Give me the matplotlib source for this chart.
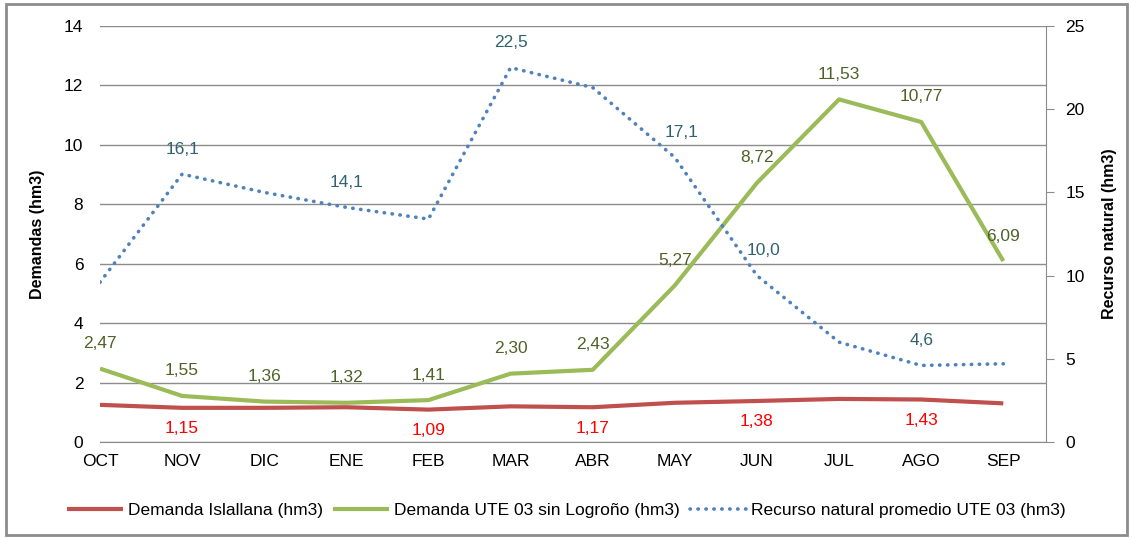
import numpy as np
import matplotlib.pyplot as plt
from matplotlib.patches import Rectangle

plt.rcParams['font.family'] = ['Liberation Sans', 'DejaVu Sans']
plt.rcParams['font.size'] = 12

months = ["OCT", "NOV", "DIC", "ENE", "FEB", "MAR", "ABR", "MAY", "JUN", "JUL", "AGO", "SEP"]
islallana = [1.25, 1.15, 1.15, 1.17, 1.09, 1.20, 1.17, 1.32, 1.38, 1.45, 1.43, 1.30]
ute03 = [2.47, 1.55, 1.36, 1.32, 1.41, 2.30, 2.43, 5.27, 8.72, 11.53, 10.77, 6.09]
recurso = [9.6, 16.1, 15.0, 14.1, 13.4, 22.5, 21.3, 17.1, 10.0, 6.0, 4.6, 4.7]

isl_label_idx = [1, 4, 6, 8, 10]
rec_label_idx = [1, 3, 5, 7, 8, 10]

red = "#C0504D"
green = "#9BBB59"
blue = "#4F81BD"

x = np.arange(len(months))

fig = plt.figure(figsize=(11.33, 5.38), dpi=100)
ax = fig.add_axes([100/1133, 1 - 442/538, (1046 - 100)/1133, (442 - 26)/538])
ax2 = ax.twinx()

l1, = ax.plot(x, islallana, color=red, lw=3, solid_capstyle='butt', zorder=3)
l2, = ax.plot(x, ute03, color=green, lw=3, solid_capstyle='butt', zorder=3)
l3, = ax2.plot(x, recurso, color=blue, lw=2.6, linestyle=(0, (0.1, 2.1)),
               dash_capstyle='round', zorder=3)

lab_fs = 12.5
for i in range(len(months)):
    ax.annotate(f"{ute03[i]:.2f}".replace(".", ","), (x[i], ute03[i]),
                xytext=(0, 18), textcoords='offset points', ha='center', va='center',
                color="#4F6228", fontsize=lab_fs)
for i in isl_label_idx:
    ax.annotate(f"{islallana[i]:.2f}".replace(".", ","), (x[i], islallana[i]),
                xytext=(0, -15), textcoords='offset points', ha='center', va='center',
                color="#FF0000", fontsize=lab_fs)
for i in rec_label_idx:
    ax2.annotate(f"{recurso[i]:.1f}".replace(".", ","), (x[i], recurso[i]),
                 xytext=(5 if i in (7, 8) else 0, 18), textcoords='offset points',
                 ha='center', va='center', color="#31626F", fontsize=lab_fs)

ax.set_xlim(0, 11.52)
ax.set_ylim(0, 14)
ax.set_yticks(np.arange(0, 15, 2))
ax2.set_ylim(0, 25)
ax2.set_yticks(np.arange(0, 26, 5))
ax.set_xticks(x)
ax.set_xticklabels(months)

ax.grid(axis='y', color="#8C8C8C", lw=1)
ax.set_axisbelow(True)
for s in ["top", "left"]:
    ax.spines[s].set_visible(False)
    ax2.spines[s].set_visible(False)
ax.spines["right"].set_visible(False)
ax.spines["bottom"].set_color("#8C8C8C")
ax2.spines["bottom"].set_visible(False)
ax2.spines["right"].set_color("#8C8C8C")
ax.tick_params(axis='x', length=0, pad=9, labelsize=lab_fs)
ax.tick_params(axis='y', length=0, pad=12, labelsize=lab_fs)
ax2.tick_params(axis='y', length=6, color="#8C8C8C", pad=8, labelsize=lab_fs)

ax.set_ylabel("Demandas (hm3)", fontweight='bold', fontsize=11.5, labelpad=14)
ax2.set_ylabel("Recurso natural (hm3)", fontweight='bold', fontsize=11.5, labelpad=12)

fig.legend([l1, l2, l3],
           ["Demanda Islallana (hm3)", "Demanda UTE 03 sin Logroño (hm3)",
            "Recurso natural promedio UTE 03 (hm3)"],
           loc='center', bbox_to_anchor=(0.5, 1 - 510/538), ncol=3, frameon=False,
           fontsize=lab_fs, handlelength=3.2, columnspacing=0.6, handletextpad=0.3)

fig.patches.append(Rectangle((6/1133, 3/538), 1121/1133, 531/538, transform=fig.transFigure,
                             fill=False, edgecolor="#8C8C8C", lw=2))

fig.savefig("out.png", dpi=100)
